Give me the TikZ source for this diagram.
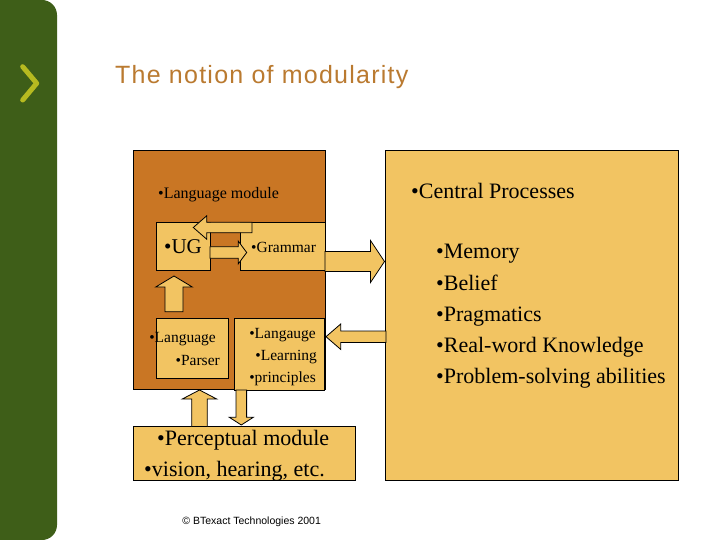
\documentclass[tikz,border=0pt]{standalone}
\usepackage{fontspec}
\setmainfont{Liberation Serif}
\newfontfamily\titlefont[LetterSpace=5]{Liberation Sans}
\newfontfamily\notefont{Liberation Sans}
\usetikzlibrary{calc}

\definecolor{barGreen}{RGB}{62,94,24}
\definecolor{chevYellow}{RGB}{182,186,32}
\definecolor{titleBrown}{RGB}{186,122,48}
\definecolor{moduleOrange}{RGB}{201,118,36}
\definecolor{boxLight}{RGB}{242,196,98}

\newcommand{\blockarrow}[5]{%
  \coordinate (tip base) at ($(#2)!#5!(#1)$);
  \filldraw[block]
    ($(#1)!#3!90:(#2)$) -- ($(tip base)!#3!90:(#2)$) -- ($(tip base)!#4!90:(#2)$) -- (#2)
    -- ($(tip base)!#4!-90:(#2)$) -- ($(tip base)!#3!-90:(#2)$) -- ($(#1)!#3!-90:(#2)$) -- cycle;
}

\begin{document}
\begin{tikzpicture}[
    x=1pt, y=-1pt,
    box/.style={
        draw,
        line width=0.8pt,
        fill=boxLight,
        anchor=north west,
        outer sep=0pt,
        inner sep=0pt
    },
    block/.style={
        draw,
        line width=0.8pt,
        fill=boxLight,
        line join=miter
    },
    txt/.style={inner sep=0pt, font=\fontsize{15.5}{18}\selectfont},
    bigtxt/.style={inner sep=0pt, font=\fontsize{22}{26}\selectfont}
]

\useasboundingbox (0,0) rectangle (720,540);
\fill[white] (0,0) rectangle (720,540);

\fill[barGreen, rounded corners=15pt] (-20,0) rectangle (57,540);
\draw[chevYellow, line width=5pt, line cap=round, line join=round]
    (22.7,66.7) -- (36.7,83.3) -- (22.7,100);

\node[anchor=base west, inner sep=0pt, text=titleBrown,
      font=\titlefont\fontsize{25}{29}\selectfont] (title) at (115,84)
    {The notion of modularity};

\node[box, fill=moduleOrange, minimum width=192pt, minimum height=239pt] (module) at (133,150) {};
\node[inner sep=0pt, anchor=base west, font=\fontsize{16}{19}\selectfont] (module-lbl) at (158,199) {•Language module};

\node[box, minimum width=54pt, minimum height=48pt] (ug) at (156,222) {};
\node[box, minimum width=85pt, minimum height=48pt] (grammar) at (240,222) {};
\node[inner sep=0pt, anchor=base west, font=\fontsize{21}{24}\selectfont] (ug-lbl) at (164,254) {•UG};
\node[txt, anchor=base west] (grammar-lbl) at (251,252) {•Grammar};

\coordinate (g2u-s) at ($(grammar.north west)+(12,5.5)$);
\coordinate (g2u-e) at ($(ug.north west)+(37.3,5.5)$);
\blockarrow{g2u-s}{g2u-e}{5.2pt}{11.7pt}{13.4pt}
\coordinate (u2g-s) at ($(ug.north east)+(0,30.5)$);
\coordinate (u2g-e) at ($(grammar.north west)+(6.7,30.5)$);
\blockarrow{u2g-s}{u2g-e}{5.8pt}{11.3pt}{8.4pt}

\node[box, minimum width=72pt, minimum height=60pt] (parser) at (156,318) {};
\node[txt, anchor=base east] (parser-lbl1) at (216,342.5) {•Language};
\node[txt, anchor=base east] (parser-lbl2) at (220,365) {•Parser};

\node[box, minimum width=90pt, minimum height=72pt] (learning) at (234,318) {};
\node[txt, anchor=base east] (learning-lbl1) at (316,338) {•Langauge};
\node[txt, anchor=base east] (learning-lbl2) at (317,360) {•Learning};
\node[txt, anchor=base east] (learning-lbl3) at (316,382) {•principles};

\coordinate (p2u-s) at ($(parser.north west)+(18,-6.3)$);
\coordinate (p2u-e) at ($(ug.south west)+(18,6)$);
\blockarrow{p2u-s}{p2u-e}{9pt}{18.3pt}{11pt}

\node[box, minimum width=222pt, minimum height=54pt] (perceptual) at (133,426) {};
\node[bigtxt, anchor=base west] (perceptual-lbl1) at (157,445) {•Perceptual module};
\node[bigtxt, anchor=base west] (perceptual-lbl2) at (144,476.5) {•vision, hearing, etc.};

\node[box, minimum width=293pt, minimum height=330pt] (central) at (385,150) {};
\node[bigtxt, anchor=base west] (central-lbl) at (411,198.5) {•Central Processes};
\foreach \item [count=\i] in {Memory, Belief, Pragmatics, Real-word Knowledge, Problem-solving abilities}
    \node[bigtxt, anchor=base west] (central-\i) at (436,227.4+31.3*\i) {•\item};

\coordinate (g2c-s) at ($(grammar.north east)+(0,39.5)$);
\coordinate (g2c-e) at ($(central.north west)+(-0.5,111.5)$);
\blockarrow{g2c-s}{g2c-e}{10pt}{21pt}{14pt}
\coordinate (c2l-s) at ($(central.north west)+(1,186.7)$);
\coordinate (c2l-e) at ($(learning.north east)+(2,18.7)$);
\blockarrow{c2l-s}{c2l-e}{5.7pt}{12.7pt}{14.7pt}
\coordinate (pm2p-s) at ($(perceptual.north west)+(66.5,0.5)$);
\coordinate (pm2p-e) at ($(parser.south west)+(43.5,12)$);
\blockarrow{pm2p-s}{pm2p-e}{7.8pt}{17.2pt}{9pt}
\coordinate (l2pm-s) at ($(learning.south west)+(7.3,0)$);
\coordinate (l2pm-e) at ($(perceptual.north west)+(108.3,-1)$);
\blockarrow{l2pm-s}{l2pm-e}{5.3pt}{12pt}{7.7pt}

\node[anchor=base, inner sep=0pt, font=\notefont\fontsize{10.5}{12}\selectfont] (copyright)
    at (251.7,524.3) {© BTexact Technologies 2001};

\end{tikzpicture}
\end{document}
